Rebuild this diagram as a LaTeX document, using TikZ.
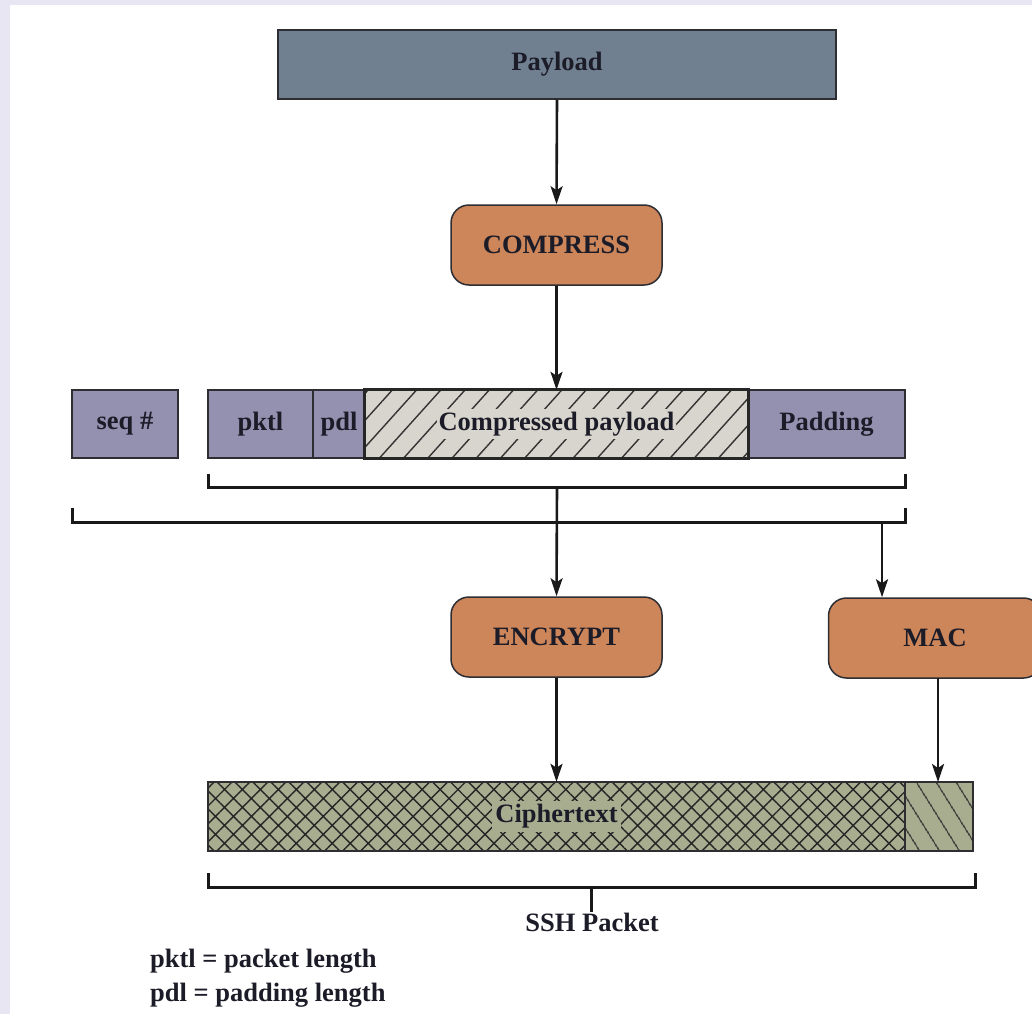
\documentclass[tikz,border=0pt]{standalone}
\usepackage{fontspec}
\setmainfont{Liberation Serif}
\usetikzlibrary{arrows.meta,patterns.meta}

\definecolor{framebg}{RGB}{232,230,242}
\definecolor{payloadfill}{RGB}{112,128,145}
\definecolor{procfill}{RGB}{205,133,90}
\definecolor{fieldfill}{RGB}{148,144,176}
\definecolor{cpfill}{RGB}{216,213,206}
\definecolor{cipherfill}{RGB}{168,173,144}
\definecolor{edge}{RGB}{45,45,50}
\definecolor{txt}{RGB}{28,28,40}

\begin{document}
\begin{tikzpicture}[x=1pt,y=-1pt,
  font=\bfseries\fontsize{26.5}{31}\selectfont,
  box/.style={draw=edge, line width=1.5pt, inner sep=0pt, text=txt,
              minimum height=68pt},
  procbox/.style={box, fill=procfill, rounded corners=18pt,
                  minimum width=211pt, minimum height=80pt},
  fieldbox/.style={box, fill=fieldfill},
  flow/.style={line width=2.6pt, draw=black!90,
               -{Stealth[length=18pt,width=12pt,inset=4pt]}},
  bracket/.style={line width=3pt, draw=black!90},
  plainlabel/.style={inner sep=0pt, text=txt}]

\useasboundingbox (0,0) rectangle (1032,1014);
\clip (0,0) rectangle (1032,1014);
\fill[framebg] (0,0) rectangle (1032,1014);
\fill[white] (10,5) rectangle (1032,1014);

% input payload and compression
\node[box, fill=payloadfill, minimum width=558pt, minimum height=69pt]
  (payload) at (557,64.5) {Payload};
\node[procbox] (compress) at (556.5,245) {COMPRESS};

% packet fields
\node[fieldbox, minimum width=106pt] (seq)  at (125,424)   {seq \#};
\node[fieldbox, minimum width=105pt] (pktl) at (260.5,424) {pktl};
\node[fieldbox, minimum width=52pt]  (pdl)  at (339,424)   {pdl};
\node[fieldbox, minimum width=157pt] (pad)  at (826.5,424) {Padding};

% compressed payload: hatched field with a cleared label
\node[inner sep=0pt, fill=cpfill, minimum width=383pt, minimum height=68pt]
  (cpay) at (556.5,424) {};
\path[pattern={Lines[angle=48,distance=18pt,line width=1.4pt]},
      pattern color=black!80] (cpay.south west) rectangle (cpay.north east);
\node[fill=cpfill, inner xsep=2pt, inner ysep=3pt, text=txt] (cplabel)
  at (cpay) {Compressed payload};
\draw[line width=3pt, draw=black!85] (cpay.south west) rectangle (cpay.north east);

% brackets under the fields
\coordinate (b1l) at (208,474);
\coordinate (b1r) at (905,474);
\coordinate (b1m) at (557,487);
\draw[bracket] (b1l) -- (208,487) -- (905,487) -- (b1r);
\coordinate (b2l) at (72,508);
\coordinate (b2r) at (905,508);
\coordinate (b2m) at (882,522);
\draw[bracket] (b2l) -- (72,522) -- (905,522) -- (b2r);

% encryption and MAC
\node[procbox] (encrypt) at (556.5,637) {ENCRYPT};
\node[procbox, minimum width=213pt] (mac) at (935,638) {MAC};

% ciphertext and MAC fields
\node[inner sep=0pt, fill=cipherfill, minimum width=697pt, minimum height=69pt]
  (cipher) at (556.5,816.5) {};
\node[inner sep=0pt, fill=cipherfill, minimum width=68pt, minimum height=69pt]
  (macfield) at (939,816.5) {};
\path[pattern={Hatch[angle=45,distance=12.7pt,line width=1.4pt]},
      pattern color=black!85] (cipher.south west) rectangle (cipher.north east);
\path[pattern={Lines[angle=-58,distance=17pt,line width=1.4pt]},
      pattern color=black!85] (macfield.south west) rectangle (macfield.north east);
\node[fill=cipherfill, inner xsep=3pt, inner ysep=3pt, text=txt] (cipherlabel)
  at (cipher) {Ciphertext};
\draw[line width=1.5pt, draw=edge] (cipher.south west) rectangle (cipher.north east);
\draw[line width=1.5pt, draw=edge] (macfield.south west) rectangle (macfield.north east);

% flow arrows
\draw[flow] (payload.south) -- (compress.north);
\draw[flow] (compress.south) -- (cpay.north);
\draw[flow] (b1m) -- (encrypt.north);
\draw[flow] (b2m) -- (b2m |- mac.north);
\draw[flow] (encrypt.south) -- (cipher.north -| encrypt.south);
\draw[flow] (938,678) -- (938,782);

% SSH packet bracket
\coordinate (b3l) at (208,873);
\coordinate (b3r) at (975,873);
\coordinate (b3m) at (591,887);
\draw[bracket] (b3l) -- (208,887) -- (975,887) -- (b3r);
\node[plainlabel, anchor=base] (ssh) at (592,931) {SSH Packet};
\draw[bracket] (b3m) -- (ssh.north -| b3m);

% legend
\node[plainlabel, anchor=base west] (leg1) at (150,967) {pktl = packet length};
\node[plainlabel, anchor=base west] (leg2) at (150,1001) {pdl = padding length};
\end{tikzpicture}
\end{document}
